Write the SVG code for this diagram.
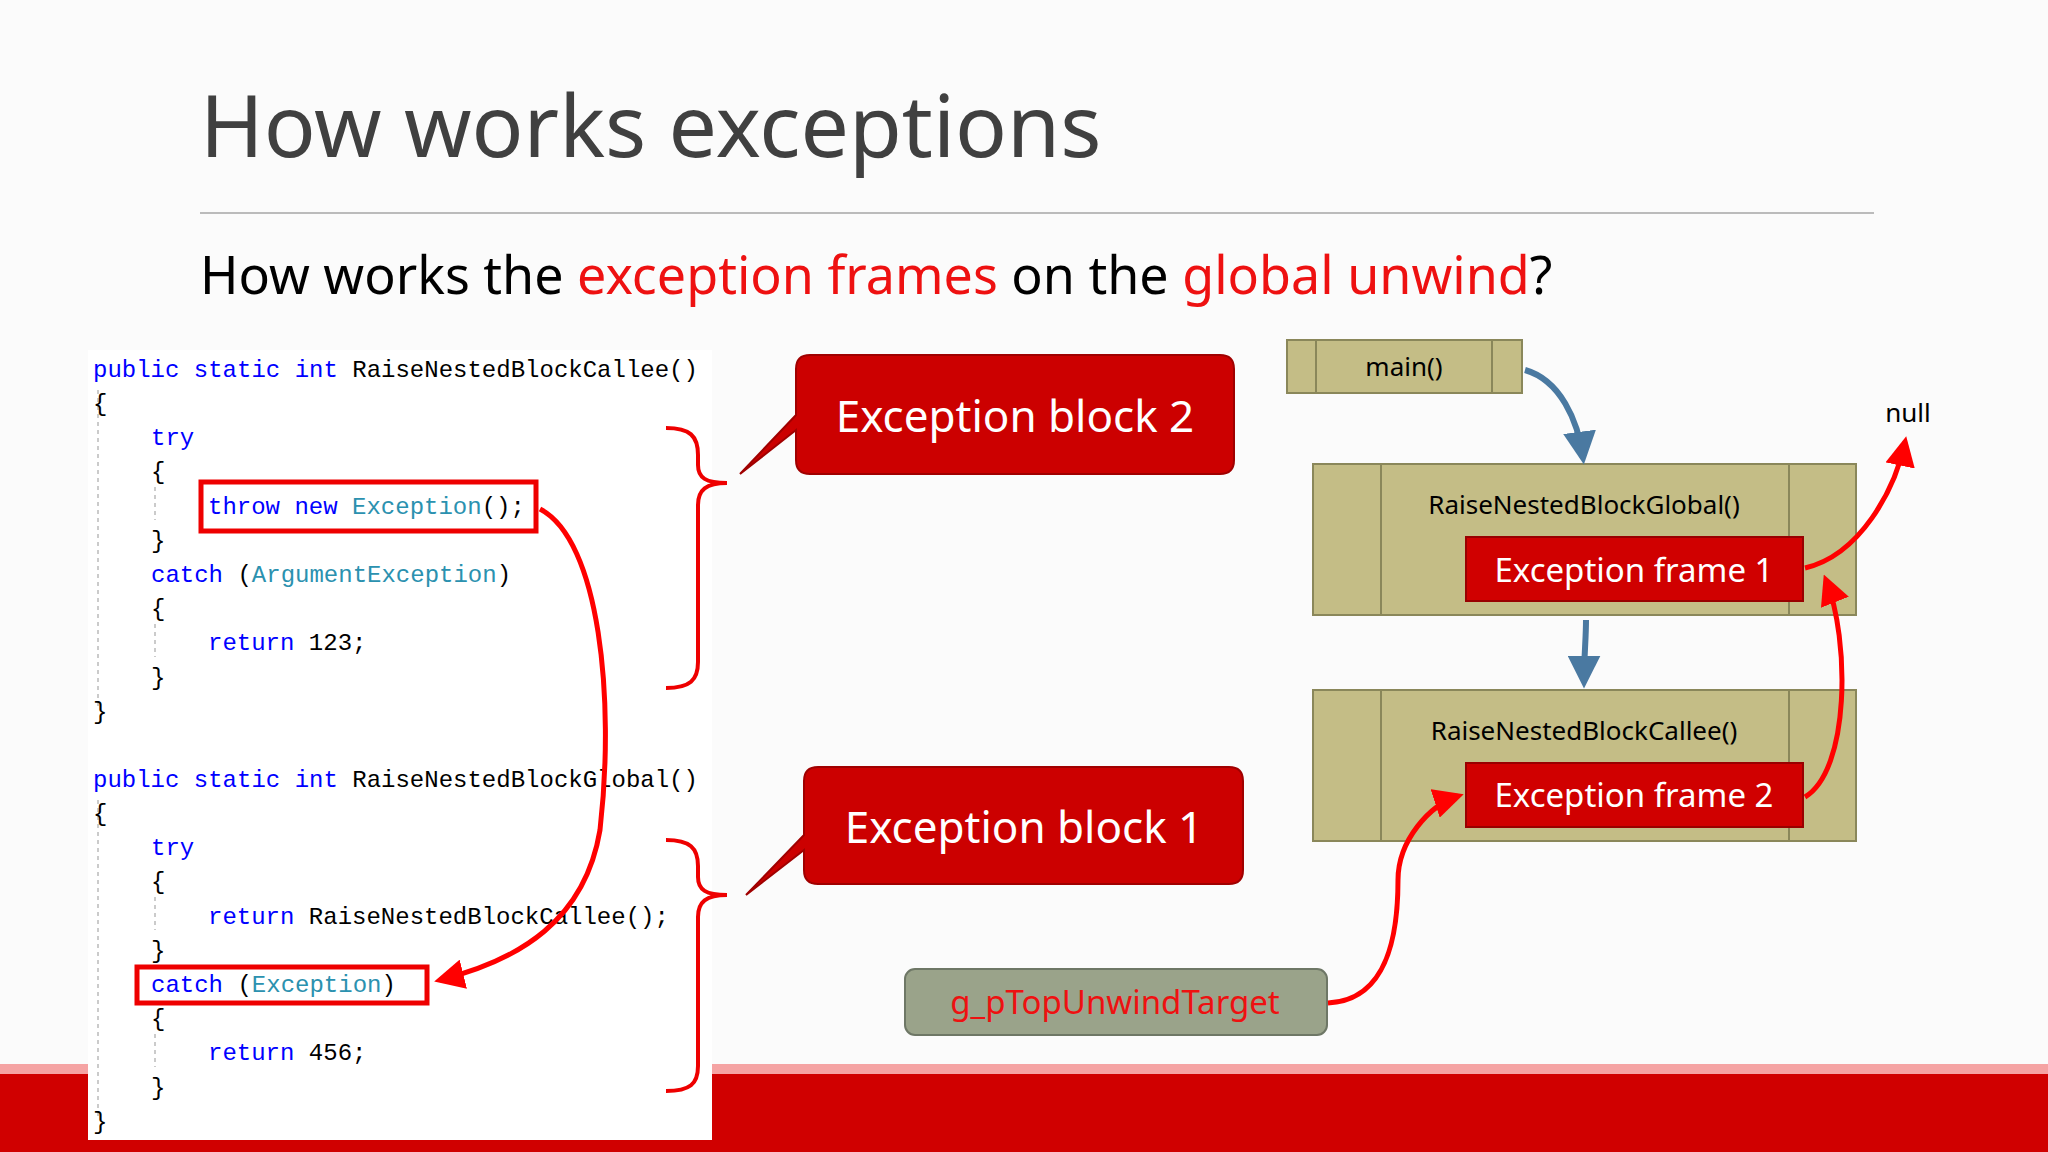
<svg xmlns="http://www.w3.org/2000/svg" width="2048" height="1152" viewBox="0 0 2048 1152">
<defs>
<style>
.code{font-family:"Liberation Mono",monospace;font-size:24px;fill:#000}
.kw{fill:#0000ff}.ty{fill:#2b91af}
.lbl{font-family:"Noto Sans","Open Sans",sans-serif}
.olive{fill:#c4bd86;stroke:#8a875a;stroke-width:2}
.frame{fill:#d00000;stroke:#990000;stroke-width:2}
.guide{stroke:#bbb;stroke-width:1.5;stroke-dasharray:4 4}
.rarrow{fill:none;stroke:#ff0000;stroke-width:5}
.barrow{fill:none;stroke:#4a79a1;stroke-width:6}
.brace{fill:none;stroke:#ee0000;stroke-width:4}
</style>
<marker id="rh" viewBox="0 0 10 10" refX="8" refY="5" markerWidth="6" markerHeight="6" orient="auto"><path d="M0,0L10,5L0,10z" fill="#ff0000"/></marker>
<marker id="bh" viewBox="0 0 10 10" refX="8" refY="5" markerWidth="5.5" markerHeight="5.5" orient="auto"><path d="M0,0L10,5L0,10z" fill="#4a79a1"/></marker>
</defs>
<rect width="2048" height="1152" fill="#fbfbfb"/>
<rect x="0" y="1064" width="2048" height="10" fill="#f5a3a3"/>
<rect x="0" y="1074" width="2048" height="78" fill="#d00000"/>
<text class="lbl" x="200" y="157" font-size="86" fill="#404040">How works exceptions</text>
<line x1="200" y1="213" x2="1874" y2="213" stroke="#bbb" stroke-width="2"/>
<text class="lbl" x="200" y="294" font-size="52" fill="#000">How works the <tspan fill="#ee1111">exception frames</tspan> on the <tspan fill="#ee1111">global unwind</tspan>?</text>
<g id="code">
<rect x="88" y="350" width="624" height="790" fill="#fff"/>
<line class="guide" x1="98" y1="390" x2="98" y2="710"/>
<line class="guide" x1="155" y1="487" x2="155" y2="520"/>
<line class="guide" x1="155" y1="624" x2="155" y2="657"/>
<line class="guide" x1="98" y1="800" x2="98" y2="1120"/>
<line class="guide" x1="155" y1="897" x2="155" y2="930"/>
<line class="guide" x1="155" y1="1034" x2="155" y2="1067"/>
<text class="code" x="93" y="377"><tspan class="kw">public static int</tspan> RaiseNestedBlockCallee()</text>
<text class="code" x="93" y="411">{</text>
<text class="code" x="151" y="445"><tspan class="kw">try</tspan></text>
<text class="code" x="151" y="479">{</text>
<text class="code" x="208" y="514"><tspan class="kw">throw new</tspan> <tspan class="ty">Exception</tspan>();</text>
<text class="code" x="151" y="548">}</text>
<text class="code" x="151" y="582"><tspan class="kw">catch</tspan> (<tspan class="ty">ArgumentException</tspan>)</text>
<text class="code" x="151" y="616">{</text>
<text class="code" x="208" y="650"><tspan class="kw">return</tspan> 123;</text>
<text class="code" x="151" y="685">}</text>
<text class="code" x="93" y="719">}</text>
<text class="code" x="93" y="787"><tspan class="kw">public static int</tspan> RaiseNestedBlockGlobal()</text>
<text class="code" x="93" y="821">{</text>
<text class="code" x="151" y="855"><tspan class="kw">try</tspan></text>
<text class="code" x="151" y="889">{</text>
<text class="code" x="208" y="924"><tspan class="kw">return</tspan> RaiseNestedBlockCallee();</text>
<text class="code" x="151" y="958">}</text>
<text class="code" x="151" y="992"><tspan class="kw">catch</tspan> (<tspan class="ty">Exception</tspan>)</text>
<text class="code" x="151" y="1026">{</text>
<text class="code" x="208" y="1060"><tspan class="kw">return</tspan> 456;</text>
<text class="code" x="151" y="1095">}</text>
<text class="code" x="93" y="1129">}</text>
<rect x="201" y="482" width="335" height="49" fill="none" stroke="#ee0000" stroke-width="5"/>
<rect x="137" y="967" width="290" height="36" fill="none" stroke="#ee0000" stroke-width="5"/>
</g>
<g id="braces">
<path class="brace" d="M666,428 C690,428 698,436 698,455 L698,465 C698,478 706,483 727,483 C706,483 698,490 698,505 L698,662 C698,680 690,688 666,688"/>
<path class="brace" d="M666,840 C690,840 698,848 698,866 L698,877 C698,890 706,895 727,895 C706,895 698,902 698,917 L698,1066 C698,1084 690,1091 666,1091"/>
</g>
<g id="block2">
<path d="M810,355 H1220 Q1234,355 1234,369 V460 Q1234,474 1220,474 H810 Q796,474 796,460 V430 L740,474 L796,415 V369 Q796,355 810,355 Z" fill="#cc0000" stroke="#a00000" stroke-width="2"/>
<text class="lbl" x="1015" y="432" font-size="44" fill="#fff" text-anchor="middle">Exception block 2</text>
</g>
<g id="block1">
<path d="M818,767 H1229 Q1243,767 1243,781 V870 Q1243,884 1229,884 H818 Q804,884 804,870 V850 L746,895 L804,835 V781 Q804,767 818,767 Z" fill="#cc0000" stroke="#a00000" stroke-width="2"/>
<text class="lbl" x="1024" y="843" font-size="44" fill="#fff" text-anchor="middle">Exception block 1</text>
</g>
<g id="main">
<rect class="olive" x="1287" y="340" width="235" height="53"/>
<line x1="1316" y1="340" x2="1316" y2="393" stroke="#8a875a" stroke-width="2"/>
<line x1="1492" y1="340" x2="1492" y2="393" stroke="#8a875a" stroke-width="2"/>
<text class="lbl" x="1404" y="376" font-size="26" fill="#000" text-anchor="middle">main()</text>
</g>
<g id="global">
<rect class="olive" x="1313" y="464" width="543" height="151"/>
<line x1="1381" y1="464" x2="1381" y2="615" stroke="#8a875a" stroke-width="2"/>
<line x1="1789" y1="464" x2="1789" y2="615" stroke="#8a875a" stroke-width="2"/>
<text class="lbl" x="1584" y="514" font-size="26" fill="#000" text-anchor="middle">RaiseNestedBlockGlobal()</text>
<rect class="frame" x="1466" y="537" width="337" height="64"/>
<text class="lbl" x="1634" y="582" font-size="33" fill="#fff" text-anchor="middle">Exception frame 1</text>
</g>
<g id="callee">
<rect class="olive" x="1313" y="690" width="543" height="151"/>
<line x1="1381" y1="690" x2="1381" y2="841" stroke="#8a875a" stroke-width="2"/>
<line x1="1789" y1="690" x2="1789" y2="841" stroke="#8a875a" stroke-width="2"/>
<text class="lbl" x="1584" y="740" font-size="26" fill="#000" text-anchor="middle">RaiseNestedBlockCallee()</text>
<rect class="frame" x="1466" y="763" width="337" height="64"/>
<text class="lbl" x="1634" y="807" font-size="33" fill="#fff" text-anchor="middle">Exception frame 2</text>
</g>
<g id="target">
<rect x="905" y="969" width="422" height="66" rx="10" fill="#9aa38a" stroke="#6e7766" stroke-width="2"/>
<text class="lbl" x="1115" y="1014" font-size="33" fill="#ee1111" text-anchor="middle">g_pTopUnwindTarget</text>
</g>
<text id="null" class="lbl" x="1908" y="422" font-size="26" fill="#000" text-anchor="middle">null</text>
<g id="connectors">
<path class="rarrow" marker-end="url(#rh)" d="M540,509 C600,540 615,700 600,830 C585,920 520,960 440,980"/>
<path class="barrow" marker-end="url(#bh)" d="M1525,370 C1560,380 1578,420 1583,458"/>
<path class="barrow" marker-end="url(#bh)" d="M1586,620 C1586,640 1584,655 1584,682"/>
<path class="rarrow" marker-end="url(#rh)" d="M1805,568 C1860,555 1895,490 1905,442"/>
<path class="rarrow" marker-end="url(#rh)" d="M1805,797 C1850,770 1850,640 1826,580"/>
<path class="rarrow" marker-end="url(#rh)" d="M1328,1003 C1390,1000 1398,930 1398,880 C1398,840 1430,805 1458,796"/>
</g>
</svg>
